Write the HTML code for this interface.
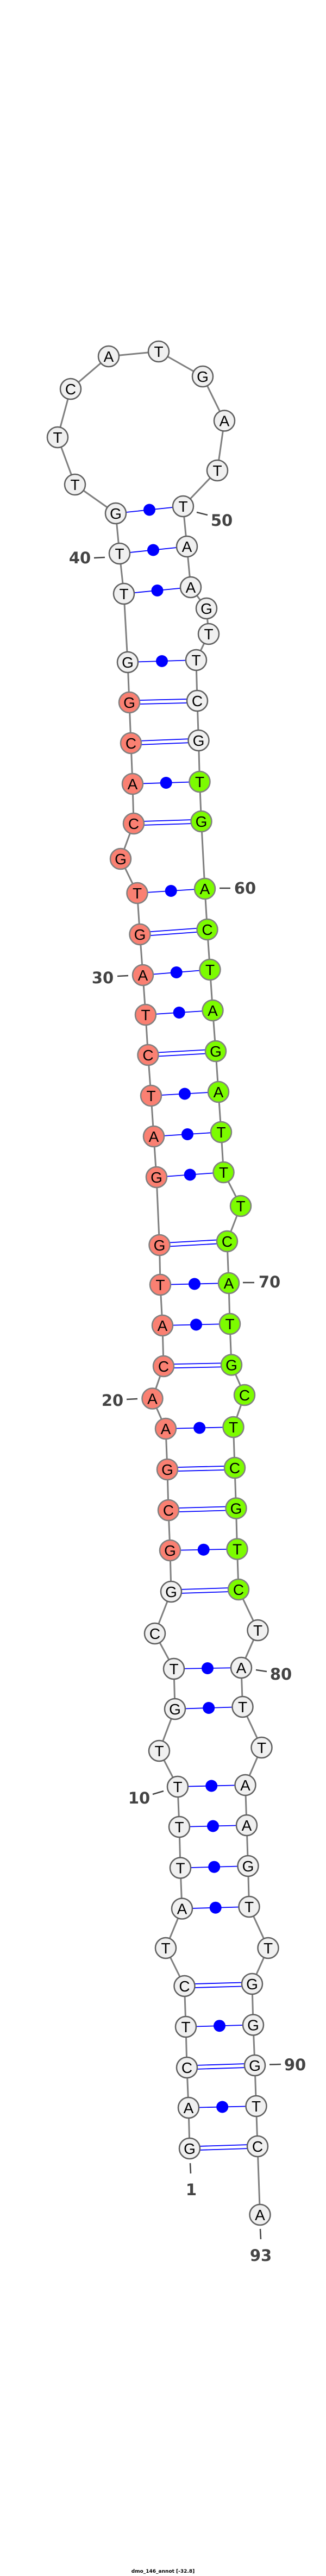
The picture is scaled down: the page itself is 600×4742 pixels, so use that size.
<!DOCTYPE html>
<html><head><meta charset="utf-8"><style>
html,body{margin:0;padding:0;background:#fff}
svg{display:block}
.b{fill:none;stroke:#808080;stroke-width:3}
.p{stroke:#0000ff;stroke-width:1.8}
.d{fill:#0000ff}
circle.w{fill:#f0f0f0;stroke:#606060;stroke-width:2.5}
circle.s{fill:#fa8072;stroke:#808080;stroke-width:2.5}
circle.g{fill:#7cfc00;stroke:#808080;stroke-width:2.5}
text.n{font-family:"Liberation Sans",sans-serif;font-size:28px;text-anchor:middle;fill:#000}
text.l{font-family:"DejaVu Sans",sans-serif;font-weight:bold;font-size:29px;fill:#444;text-anchor:middle}
.t{stroke:#444;stroke-width:2.5}
</style></head><body>
<svg width="600" height="4742" viewBox="0 0 600 4742" xmlns="http://www.w3.org/2000/svg">
<polyline class="b" points="349,3955 347,3880 344,3806 342,3731 339.5,3656 305,3586 335,3513.5 332,3438.5 330,3363 327,3289 293,3223 322,3146 320,3072 285,3007 315,2930 313,2854 310,2780 308,2705 305,2630 280.5,2574.5 301,2515 299,2440 295,2365 293.5,2292 288,2167 283,2092 278,2017 272.5,1942 268,1868 263,1795 257.5,1720 252.5,1644 222,1581 246,1516 244,1443 241,1368 238,1293 235,1219 228,1093 220,1019 213,945 138,892 106,805 130,716 200,656 292,647 373,693 413,774.5 400,866 337,932 344,1006 351,1081 380,1120 384,1167 361,1215 363,1290 365.5,1363 367.5,1439 370.5,1512 377,1636 381.5,1711 386.5,1785 391.5,1860 397,1935 402,2010 407,2084 411.5,2158 443,2220 418,2285 421,2362 423,2437 426,2512.5 450,2568 429.5,2627 432,2702 434.5,2776.5 436.5,2851.5 439,2926 474.5,3001 444,3070 446.5,3142 481.5,3217 451.5,3286 454,3360 456.5,3435 458.5,3510 493.5,3586 464,3652 466,3727.5 469,3802 471.5,3877 474,3951 478.5,4077"/>
<!-- single pairs -->
<g class="p">
<line x1="213" y1="945" x2="337" y2="932"/>
<line x1="220" y1="1019" x2="344" y2="1006"/>
<line x1="228" y1="1093" x2="351" y2="1081"/>
<line x1="235" y1="1219" x2="361" y2="1215"/>
<line x1="244" y1="1443" x2="367.5" y2="1439"/>
<line x1="252.5" y1="1644" x2="377" y2="1636"/>
<line x1="263" y1="1795" x2="386.5" y2="1785"/>
<line x1="268" y1="1868" x2="391.5" y2="1860"/>
<line x1="278" y1="2017" x2="402" y2="2010"/>
<line x1="283" y1="2092" x2="407" y2="2084"/>
<line x1="288" y1="2167" x2="411.5" y2="2158"/>
<line x1="295" y1="2365" x2="421" y2="2362"/>
<line x1="299" y1="2440" x2="423" y2="2437"/>
<line x1="305" y1="2630" x2="429.5" y2="2627"/>
<line x1="313" y1="2854" x2="436.5" y2="2851.5"/>
<line x1="320" y1="3072" x2="444" y2="3070"/>
<line x1="322" y1="3146" x2="446.5" y2="3142"/>
<line x1="327" y1="3289" x2="451.5" y2="3286"/>
<line x1="330" y1="3363" x2="454" y2="3360"/>
<line x1="332" y1="3438.5" x2="456.5" y2="3435"/>
<line x1="335" y1="3513.5" x2="458.5" y2="3510"/>
<line x1="342" y1="3731" x2="466" y2="3727.5"/>
<line x1="347" y1="3880" x2="471.5" y2="3877"/>
</g>
<g class="d">
<circle cx="275" cy="938.5" r="11"/>
<circle cx="282" cy="1012.5" r="11"/>
<circle cx="289.5" cy="1087" r="11"/>
<circle cx="298" cy="1217" r="11"/>
<circle cx="305.7" cy="1441" r="11"/>
<circle cx="314.7" cy="1640" r="11"/>
<circle cx="324.7" cy="1790" r="11"/>
<circle cx="329.7" cy="1864" r="11"/>
<circle cx="340" cy="2013.5" r="11"/>
<circle cx="345" cy="2088" r="11"/>
<circle cx="349.7" cy="2162.5" r="11"/>
<circle cx="358" cy="2363.5" r="11"/>
<circle cx="361" cy="2438.5" r="11"/>
<circle cx="367.2" cy="2628.5" r="11"/>
<circle cx="374.7" cy="2852.7" r="11"/>
<circle cx="382" cy="3071" r="11"/>
<circle cx="384.2" cy="3144" r="11"/>
<circle cx="389.2" cy="3287.5" r="11"/>
<circle cx="392" cy="3361.5" r="11"/>
<circle cx="394.2" cy="3436.7" r="11"/>
<circle cx="396.7" cy="3511.7" r="11"/>
<circle cx="404" cy="3729.2" r="11"/>
<circle cx="409.2" cy="3878.5" r="11"/>
</g>
<!-- double pairs -->
<g class="p">
<line x1="238" y1="1289.5" x2="363" y2="1286.5"/><line x1="238" y1="1296.5" x2="363" y2="1293.5"/>
<line x1="241" y1="1364.5" x2="365.5" y2="1359.5"/><line x1="241" y1="1371.5" x2="365.5" y2="1366.5"/>
<line x1="246" y1="1512.5" x2="370.5" y2="1508.5"/><line x1="246" y1="1519.5" x2="370.5" y2="1515.5"/>
<line x1="257.5" y1="1716.5" x2="381.5" y2="1707.5"/><line x1="257.5" y1="1723.5" x2="381.5" y2="1714.5"/>
<line x1="272.5" y1="1938.5" x2="397" y2="1931.5"/><line x1="272.5" y1="1945.5" x2="397" y2="1938.5"/>
<line x1="293.5" y1="2288.5" x2="418" y2="2281.5"/><line x1="293.5" y1="2295.5" x2="418" y2="2288.5"/>
<line x1="301" y1="2511.5" x2="426" y2="2509"/><line x1="301" y1="2518.5" x2="426" y2="2516"/>
<line x1="308" y1="2701.5" x2="432" y2="2698.5"/><line x1="308" y1="2708.5" x2="432" y2="2705.5"/>
<line x1="310" y1="2776.5" x2="434.5" y2="2773"/><line x1="310" y1="2783.5" x2="434.5" y2="2780"/>
<line x1="315" y1="2926.5" x2="439" y2="2922.5"/><line x1="315" y1="2933.5" x2="439" y2="2929.5"/>
<line x1="339.5" y1="3652.5" x2="464" y2="3649"/><line x1="339.5" y1="3659.5" x2="464" y2="3656"/>
<line x1="344" y1="3802.5" x2="469" y2="3798.5"/><line x1="344" y1="3809.5" x2="469" y2="3805.5"/>
<line x1="349" y1="3951.5" x2="474" y2="3947.5"/><line x1="349" y1="3958.5" x2="474" y2="3954.5"/>
</g>
<!-- nodes -->
<g>
<circle class="w" cx="349" cy="3955" r="19"/><text class="n" x="349" y="3965">G</text>
<circle class="w" cx="347" cy="3880" r="19"/><text class="n" x="347" y="3890">A</text>
<circle class="w" cx="344" cy="3806" r="19"/><text class="n" x="344" y="3816">C</text>
<circle class="w" cx="342" cy="3731" r="19"/><text class="n" x="342" y="3741">T</text>
<circle class="w" cx="339.5" cy="3656" r="19"/><text class="n" x="339.5" y="3666">C</text>
<circle class="w" cx="305" cy="3586" r="19"/><text class="n" x="305" y="3596">T</text>
<circle class="w" cx="335" cy="3513.5" r="19"/><text class="n" x="335" y="3523.5">A</text>
<circle class="w" cx="332" cy="3438.5" r="19"/><text class="n" x="332" y="3448.5">T</text>
<circle class="w" cx="330" cy="3363" r="19"/><text class="n" x="330" y="3373">T</text>
<circle class="w" cx="327" cy="3289" r="19"/><text class="n" x="327" y="3299">T</text>
<circle class="w" cx="293" cy="3223" r="19"/><text class="n" x="293" y="3233">T</text>
<circle class="w" cx="322" cy="3146" r="19"/><text class="n" x="322" y="3156">G</text>
<circle class="w" cx="320" cy="3072" r="19"/><text class="n" x="320" y="3082">T</text>
<circle class="w" cx="285" cy="3007" r="19"/><text class="n" x="285" y="3017">C</text>
<circle class="w" cx="315" cy="2930" r="19"/><text class="n" x="315" y="2940">G</text>
<circle class="s" cx="313" cy="2854" r="19"/><text class="n" x="313" y="2864">G</text>
<circle class="s" cx="310" cy="2780" r="19"/><text class="n" x="310" y="2790">C</text>
<circle class="s" cx="308" cy="2705" r="19"/><text class="n" x="308" y="2715">G</text>
<circle class="s" cx="305" cy="2630" r="19"/><text class="n" x="305" y="2640">A</text>
<circle class="s" cx="280.5" cy="2574.5" r="19"/><text class="n" x="280.5" y="2584.5">A</text>
<circle class="s" cx="301" cy="2515" r="19"/><text class="n" x="301" y="2525">C</text>
<circle class="s" cx="299" cy="2440" r="19"/><text class="n" x="299" y="2450">A</text>
<circle class="s" cx="295" cy="2365" r="19"/><text class="n" x="295" y="2375">T</text>
<circle class="s" cx="293.5" cy="2292" r="19"/><text class="n" x="293.5" y="2302">G</text>
<circle class="s" cx="288" cy="2167" r="19"/><text class="n" x="288" y="2177">G</text>
<circle class="s" cx="283" cy="2092" r="19"/><text class="n" x="283" y="2102">A</text>
<circle class="s" cx="278" cy="2017" r="19"/><text class="n" x="278" y="2027">T</text>
<circle class="s" cx="272.5" cy="1942" r="19"/><text class="n" x="272.5" y="1952">C</text>
<circle class="s" cx="268" cy="1868" r="19"/><text class="n" x="268" y="1878">T</text>
<circle class="s" cx="263" cy="1795" r="19"/><text class="n" x="263" y="1805">A</text>
<circle class="s" cx="257.5" cy="1720" r="19"/><text class="n" x="257.5" y="1730">G</text>
<circle class="s" cx="252.5" cy="1644" r="19"/><text class="n" x="252.5" y="1654">T</text>
<circle class="s" cx="222" cy="1581" r="19"/><text class="n" x="222" y="1591">G</text>
<circle class="s" cx="246" cy="1516" r="19"/><text class="n" x="246" y="1526">C</text>
<circle class="s" cx="244" cy="1443" r="19"/><text class="n" x="244" y="1453">A</text>
<circle class="s" cx="241" cy="1368" r="19"/><text class="n" x="241" y="1378">C</text>
<circle class="s" cx="238" cy="1293" r="19"/><text class="n" x="238" y="1303">G</text>
<circle class="w" cx="235" cy="1219" r="19"/><text class="n" x="235" y="1229">G</text>
<circle class="w" cx="228" cy="1093" r="19"/><text class="n" x="228" y="1103">T</text>
<circle class="w" cx="220" cy="1019" r="19"/><text class="n" x="220" y="1029">T</text>
<circle class="w" cx="213" cy="945" r="19"/><text class="n" x="213" y="955">G</text>
<circle class="w" cx="138" cy="892" r="19"/><text class="n" x="138" y="902">T</text>
<circle class="w" cx="106" cy="805" r="19"/><text class="n" x="106" y="815">T</text>
<circle class="w" cx="130" cy="716" r="19"/><text class="n" x="130" y="726">C</text>
<circle class="w" cx="200" cy="656" r="19"/><text class="n" x="200" y="666">A</text>
<circle class="w" cx="292" cy="647" r="19"/><text class="n" x="292" y="657">T</text>
<circle class="w" cx="373" cy="693" r="19"/><text class="n" x="373" y="703">G</text>
<circle class="w" cx="413" cy="774.5" r="19"/><text class="n" x="413" y="784.5">A</text>
<circle class="w" cx="400" cy="866" r="19"/><text class="n" x="400" y="876">T</text>
<circle class="w" cx="337" cy="932" r="19"/><text class="n" x="337" y="942">T</text>
<circle class="w" cx="344" cy="1006" r="19"/><text class="n" x="344" y="1016">A</text>
<circle class="w" cx="351" cy="1081" r="19"/><text class="n" x="351" y="1091">A</text>
<circle class="w" cx="380" cy="1120" r="19"/><text class="n" x="380" y="1130">G</text>
<circle class="w" cx="384" cy="1167" r="19"/><text class="n" x="384" y="1177">T</text>
<circle class="w" cx="361" cy="1215" r="19"/><text class="n" x="361" y="1225">T</text>
<circle class="w" cx="363" cy="1290" r="19"/><text class="n" x="363" y="1300">C</text>
<circle class="w" cx="365.5" cy="1363" r="19"/><text class="n" x="365.5" y="1373">G</text>
<circle class="g" cx="367.5" cy="1439" r="19"/><text class="n" x="367.5" y="1449">T</text>
<circle class="g" cx="370.5" cy="1512" r="19"/><text class="n" x="370.5" y="1522">G</text>
<circle class="g" cx="377" cy="1636" r="19"/><text class="n" x="377" y="1646">A</text>
<circle class="g" cx="381.5" cy="1711" r="19"/><text class="n" x="381.5" y="1721">C</text>
<circle class="g" cx="386.5" cy="1785" r="19"/><text class="n" x="386.5" y="1795">T</text>
<circle class="g" cx="391.5" cy="1860" r="19"/><text class="n" x="391.5" y="1870">A</text>
<circle class="g" cx="397" cy="1935" r="19"/><text class="n" x="397" y="1945">G</text>
<circle class="g" cx="402" cy="2010" r="19"/><text class="n" x="402" y="2020">A</text>
<circle class="g" cx="407" cy="2084" r="19"/><text class="n" x="407" y="2094">T</text>
<circle class="g" cx="411.5" cy="2158" r="19"/><text class="n" x="411.5" y="2168">T</text>
<circle class="g" cx="443" cy="2220" r="19"/><text class="n" x="443" y="2230">T</text>
<circle class="g" cx="418" cy="2285" r="19"/><text class="n" x="418" y="2295">C</text>
<circle class="g" cx="421" cy="2362" r="19"/><text class="n" x="421" y="2372">A</text>
<circle class="g" cx="423" cy="2437" r="19"/><text class="n" x="423" y="2447">T</text>
<circle class="g" cx="426" cy="2512.5" r="19"/><text class="n" x="426" y="2522.5">G</text>
<circle class="g" cx="450" cy="2568" r="19"/><text class="n" x="450" y="2578">C</text>
<circle class="g" cx="429.5" cy="2627" r="19"/><text class="n" x="429.5" y="2637">T</text>
<circle class="g" cx="432" cy="2702" r="19"/><text class="n" x="432" y="2712">C</text>
<circle class="g" cx="434.5" cy="2776.5" r="19"/><text class="n" x="434.5" y="2786.5">G</text>
<circle class="g" cx="436.5" cy="2851.5" r="19"/><text class="n" x="436.5" y="2861.5">T</text>
<circle class="g" cx="439" cy="2926" r="19"/><text class="n" x="439" y="2936">C</text>
<circle class="w" cx="474.5" cy="3001" r="19"/><text class="n" x="474.5" y="3011">T</text>
<circle class="w" cx="444" cy="3070" r="19"/><text class="n" x="444" y="3080">A</text>
<circle class="w" cx="446.5" cy="3142" r="19"/><text class="n" x="446.5" y="3152">T</text>
<circle class="w" cx="481.5" cy="3217" r="19"/><text class="n" x="481.5" y="3227">T</text>
<circle class="w" cx="451.5" cy="3286" r="19"/><text class="n" x="451.5" y="3296">A</text>
<circle class="w" cx="454" cy="3360" r="19"/><text class="n" x="454" y="3370">A</text>
<circle class="w" cx="456.5" cy="3435" r="19"/><text class="n" x="456.5" y="3445">G</text>
<circle class="w" cx="458.5" cy="3510" r="19"/><text class="n" x="458.5" y="3520">T</text>
<circle class="w" cx="493.5" cy="3586" r="19"/><text class="n" x="493.5" y="3596">T</text>
<circle class="w" cx="464" cy="3652" r="19"/><text class="n" x="464" y="3662">G</text>
<circle class="w" cx="466" cy="3727.5" r="19"/><text class="n" x="466" y="3737.5">G</text>
<circle class="w" cx="469" cy="3802" r="19"/><text class="n" x="469" y="3812">G</text>
<circle class="w" cx="471.5" cy="3877" r="19"/><text class="n" x="471.5" y="3887">T</text>
<circle class="w" cx="474" cy="3951" r="19"/><text class="n" x="474" y="3961">C</text>
<circle class="w" cx="478.5" cy="4077" r="19"/><text class="n" x="478.5" y="4087">A</text>
</g>
<!-- labels -->
<line class="t" x1="173" y1="1027" x2="193" y2="1026"/><text class="l" x="147" y="1037">40</text>
<line class="t" x1="362" y1="943" x2="382" y2="948"/><text class="l" x="408" y="968">50</text>
<line class="t" x1="404" y1="1635" x2="424" y2="1635"/><text class="l" x="451" y="1645">60</text>
<line class="t" x1="216" y1="1797" x2="236" y2="1796"/><text class="l" x="189" y="1810">30</text>
<line class="t" x1="447" y1="2361" x2="468" y2="2361"/><text class="l" x="496" y="2370">70</text>
<line class="t" x1="233" y1="2576" x2="253" y2="2575"/><text class="l" x="207" y="2588">20</text>
<line class="t" x1="471" y1="3074" x2="491" y2="3077"/><text class="l" x="517" y="3092">80</text>
<line class="t" x1="281" y1="3303" x2="301" y2="3297"/><text class="l" x="256" y="3320">10</text>
<line class="t" x1="496" y1="3800.5" x2="517" y2="3800"/><text class="l" x="543" y="3811">90</text>
<line class="t" x1="350" y1="3982" x2="351" y2="4001"/><text class="l" x="352" y="4041">1</text>
<line class="t" x1="479" y1="4103" x2="480" y2="4122"/><text class="l" x="480" y="4162">93</text>
<text x="300" y="4736" font-family="DejaVu Sans, sans-serif" font-weight="bold" font-size="9" text-anchor="middle" fill="#000">dmo_146_annot [-32.8]</text>
</svg>
</body></html>
